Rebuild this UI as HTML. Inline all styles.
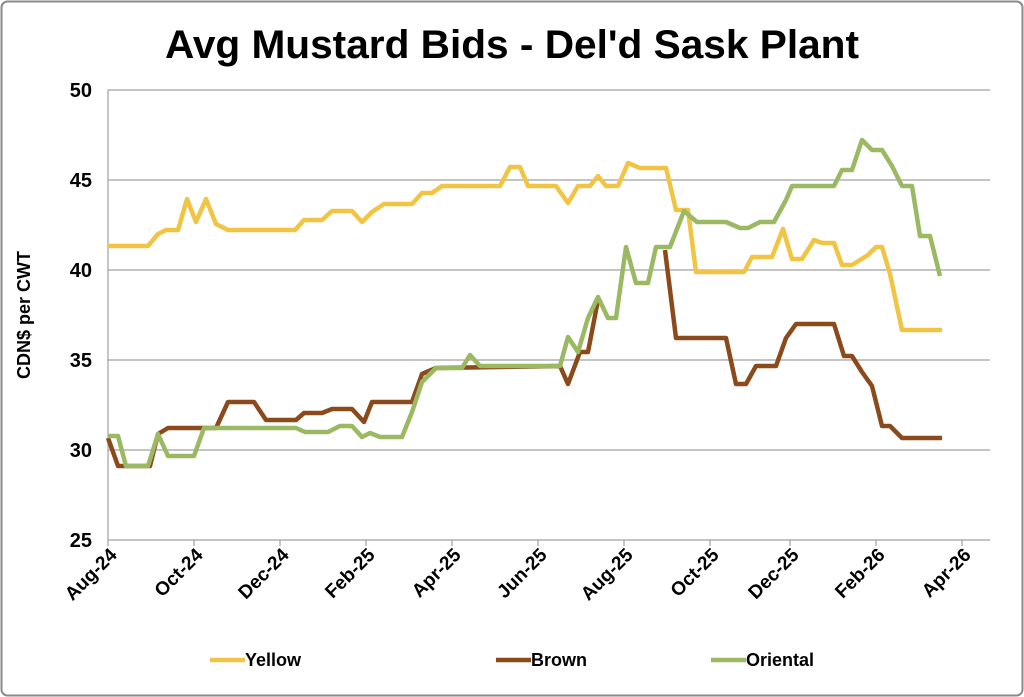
<!DOCTYPE html>
<html><head><meta charset="utf-8"><style>
body{margin:0;background:#fff;}
svg{display:block;font-family:"Liberation Sans",sans-serif;}
</style></head><body>
<svg width="1024" height="697" viewBox="0 0 1024 697">
<rect x="1.5" y="1.5" width="1021" height="694" rx="6" fill="#fff" stroke="#8a8a8a" stroke-width="2"/>
<text x="512" y="58" text-anchor="middle" font-size="40" font-weight="bold" fill="#000" textLength="694" lengthAdjust="spacingAndGlyphs">Avg Mustard Bids - Del'd Sask Plant</text>
<g stroke="#a0a0a0" stroke-width="1.2">
<line x1="108" y1="90" x2="990" y2="90"/><line x1="108" y1="180" x2="990" y2="180"/>
<line x1="108" y1="270" x2="990" y2="270"/><line x1="108" y1="360" x2="990" y2="360"/>
<line x1="108" y1="450" x2="990" y2="450"/><line x1="108" y1="540" x2="990" y2="540"/>
<line x1="108" y1="90" x2="108" y2="546"/>
<line x1="194" y1="540" x2="194" y2="546"/><line x1="280" y1="540" x2="280" y2="546"/><line x1="366" y1="540" x2="366" y2="546"/><line x1="452" y1="540" x2="452" y2="546"/><line x1="538" y1="540" x2="538" y2="546"/><line x1="624" y1="540" x2="624" y2="546"/><line x1="710" y1="540" x2="710" y2="546"/><line x1="790" y1="540" x2="790" y2="546"/><line x1="876" y1="540" x2="876" y2="546"/><line x1="962" y1="540" x2="962" y2="546"/>
</g>
<g font-size="20" font-weight="bold" text-anchor="end" fill="#000">
<text x="92" y="97">50</text><text x="92" y="187">45</text><text x="92" y="277">40</text><text x="92" y="367">35</text><text x="92" y="457">30</text><text x="92" y="547">25</text>
</g>
<text transform="translate(30,315) rotate(-90)" text-anchor="middle" font-size="18" font-weight="bold">CDN$ per CWT</text>
<g font-size="19" font-weight="bold" text-anchor="end">
<text transform="translate(118,556) rotate(-45)">Aug-24</text>
<text transform="translate(204,556) rotate(-45)">Oct-24</text>
<text transform="translate(290,556) rotate(-45)">Dec-24</text>
<text transform="translate(376,556) rotate(-45)">Feb-25</text>
<text transform="translate(462,556) rotate(-45)">Apr-25</text>
<text transform="translate(548,556) rotate(-45)">Jun-25</text>
<text transform="translate(634,556) rotate(-45)">Aug-25</text>
<text transform="translate(720,556) rotate(-45)">Oct-25</text>
<text transform="translate(800,556) rotate(-45)">Dec-25</text>
<text transform="translate(886,556) rotate(-45)">Feb-26</text>
<text transform="translate(972,556) rotate(-45)">Apr-26</text>
</g>
<g fill="none" stroke-width="4.5" stroke-linejoin="round">
<polyline stroke="#f1c443" points="108,246 148,246 158,234 166,230 178,230 187,199 196,222 206,199 216,224 228,230 295,230 304,220 322,220 332,211 352,211 362,222 372,212 384,204 412,204 422,193 432,193 442,186 500,186 510,167 520,167 528,186 556,186 568,203 578,186 590,186 598,176 606,186 618,186 628,163 640,168 666,168 676,210 688,210 696,272 744,272 752,257 772,257 783,229 792,259 802,259 814,240 822,243 834,243 842,265 852,265 868,255 876,247 882,247 890,274 902,330 942,330"/>
<polyline stroke="#8b4a1c" points="108,438 118,466 124,466 150,466 158,434 168,428 216,428 228,402 254,402 266,420 296,420 304,413 322,413 332,409 352,409 364,422 372,402 412,402 422,374 436,368 560,366 568,384 580,352 588,352 598,300"/>
<polyline stroke="#9bb862" points="108,436 118,436 126,466 148,466 158,434 168,456 194,456 204,428 296,428 305,432 328,432 340,426 352,426 362,437 370,433 380,437 402,437 412,412 422,382 436,368 462,368 470,355 480,366 560,366 568,337 578,352 588,318 598,297 608,318 616,318 626,247 636,283 648,283 656,247 670,247 684,211 697,222 726,222 740,228 748,228 760,222 774,222 786,200 792,186 834,186 842,170 852,170 862,140 872,150 882,150 892,166 902,186 912,186 920,236 930,236 940,276"/>
<polyline stroke="#8b4a1c" points="665,250 676,338 726,338 736,384 746,384 756,366 776,366 786,338 796,324 834,324 844,356 852,356 862,372 872,386 882,426 890,426 902,438 942,438"/>
</g>
<g font-size="18" font-weight="bold">
<line x1="210" y1="660" x2="245" y2="660" stroke="#f1c443" stroke-width="4.5"/><text x="245" y="666">Yellow</text>
<line x1="496" y1="660" x2="531" y2="660" stroke="#8b4a1c" stroke-width="4.5"/><text x="531" y="666">Brown</text>
<line x1="711" y1="660" x2="746" y2="660" stroke="#9bb862" stroke-width="4.5"/><text x="746" y="666">Oriental</text>
</g>
</svg>
</body></html>
